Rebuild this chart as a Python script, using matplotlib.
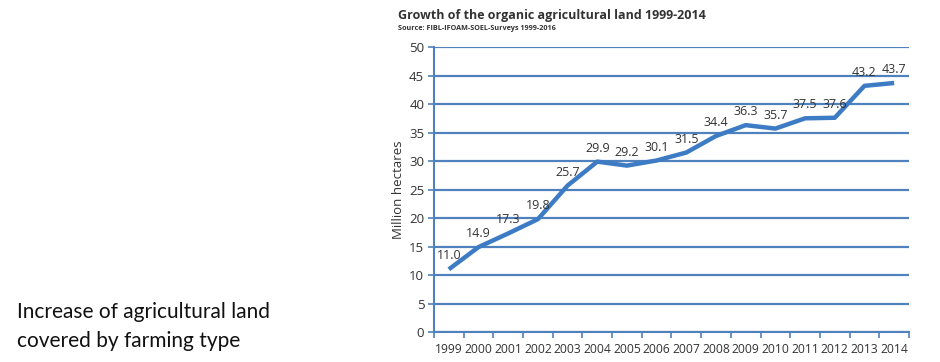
import matplotlib.pyplot as plt

# Data
years = ['1999', '2000', '2001', '2002', '2003', '2004', '2005', '2006',
         '2007', '2008', '2009', '2010', '2011', '2012', '2013', '2014']
hectares = [11.0, 14.9, 17.3, 19.8, 25.7, 29.9, 29.2, 30.1,
            31.5, 34.4, 36.3, 35.7, 37.5, 37.6, 43.2, 43.7]
y_ticks = list(range(0, 55, 5))

line_color = '#3d7cc4'
grid_color = '#4f81bd'
text_color = '#333333'

plt.rcParams['font.family'] = ['Open Sans', 'DejaVu Sans']

fig = plt.figure(figsize=(9.4, 3.62), dpi=100)
ax = fig.add_axes([0.4617, 0.0829, 0.5053, 0.787])

x = list(range(len(years)))
ax.plot(x, hectares, color=line_color, linewidth=3.2, solid_capstyle='butt', zorder=3)

# data labels above each point
for xi, v in zip(x, hectares):
    ax.annotate(f'{v:.1f}', (xi, v), xytext=(0, 5), textcoords='offset points',
                ha='center', va='bottom', fontsize=9, color=text_color)

ax.set_xlim(-0.5, len(years) - 0.5)
ax.set_ylim(0, 50)
ax.set_yticks(y_ticks)
ax.set_yticklabels([str(t) for t in y_ticks], fontsize=9.5, color=text_color)
ax.set_xticks(x)
ax.set_xticklabels(years, fontsize=8.7, color=text_color)
ax.tick_params(axis='x', which='major', length=0, pad=8)
ax.set_xticks([i - 0.5 for i in range(len(years) + 1)], minor=True)
ax.tick_params(axis='x', which='minor', length=4, width=1.2, color=grid_color, direction='out')
ax.tick_params(axis='y', length=4, width=1.2, color=grid_color, direction='out', pad=3)

ax.grid(axis='y', color=grid_color, linewidth=1.6, zorder=1)
ax.set_axisbelow(True)
for side in ['top', 'right']:
    ax.spines[side].set_visible(False)
for side in ['left', 'bottom']:
    ax.spines[side].set_color(grid_color)
    ax.spines[side].set_linewidth(1.5)

ax.set_ylabel('Million hectares', fontsize=9.5, color=text_color, labelpad=3)

fig.text(398 / 940, 1 - 15 / 362, 'Growth of the organic agricultural land 1999-2014',
         fontsize=9, fontweight='bold', color=text_color, ha='left', va='center')
fig.text(398 / 940, 1 - 29 / 362, 'Source: FIBL-IFOAM-SOEL-Surveys 1999-2016',
         fontsize=5.2, fontweight='bold', color=text_color, ha='left', va='center')

fig.text(17 / 940, 1 - 312 / 362, 'Increase of agricultural land',
         fontsize=15, color='#111111', ha='left', va='center', family=['Lato', 'DejaVu Sans'])
fig.text(17 / 940, 1 - 341 / 362, 'covered by farming type',
         fontsize=15, color='#111111', ha='left', va='center', family=['Lato', 'DejaVu Sans'])

fig.savefig('out.png', dpi=100)
